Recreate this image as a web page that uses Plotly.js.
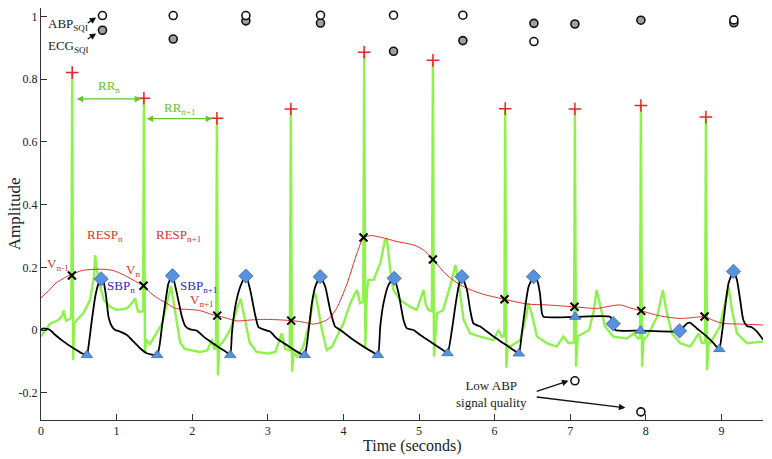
<!DOCTYPE html>
<html><head><meta charset="utf-8">
<script src="https://cdn.plot.ly/plotly-3.0.1.min.js"></script>
<style>body{margin:0;background:#fff}#c{width:772px;height:459px}</style>
</head><body><div id="c"></div>
<script>
// ECG (green) waveform
const ecgT=[0.00,0.06,0.12,0.23,0.28,0.30,0.33,0.38,0.40,0.413,0.425,0.44,0.475,0.56,0.65,0.70,0.717,0.735,0.76,0.83,0.915,1.0,1.136,1.20,1.246,1.27,1.29,1.35,1.361,1.375,1.39,1.44,1.5,1.6,1.68,1.72,1.78,1.84,1.9,2.0,2.1,2.2,2.26,2.29,2.315,2.327,2.34,2.36,2.4,2.5,2.58,2.64,2.7,2.76,2.85,3.0,3.1,3.186,3.23,3.29,3.305,3.32,3.34,3.385,3.47,3.56,3.60,3.627,3.67,3.716,3.78,3.85,3.914,4.0,4.09,4.18,4.22,4.262,4.275,4.29,4.31,4.33,4.40,4.487,4.55,4.575,4.62,4.66,4.75,4.88,4.97,5.06,5.09,5.126,5.17,5.184,5.198,5.237,5.32,5.435,5.48,5.52,5.59,5.677,5.81,5.985,6.05,6.097,6.128,6.14,6.155,6.175,6.206,6.34,6.405,6.449,6.49,6.56,6.69,6.82,6.91,6.98,7.05,7.062,7.077,7.10,7.14,7.25,7.31,7.35,7.40,7.46,7.57,7.75,7.84,7.90,7.923,7.935,7.95,7.97,8.015,8.15,8.226,8.27,8.345,8.455,8.587,8.70,8.74,8.783,8.795,8.81,8.83,8.85,8.98,9.07,9.094,9.14,9.205,9.337,9.55];
const ecgV=[-0.02,0.0,0.02,0.032,0.045,0.062,0.03,0.035,0.04,0.82,-0.096,0.02,0.032,0.053,0.096,0.17,0.239,0.2,0.16,0.096,0.074,0.064,0.069,0.085,0.101,0.07,0.058,0.06,0.739,-0.074,-0.03,-0.045,-0.02,0.02,0.10,0.14,0.05,-0.04,-0.06,-0.065,-0.07,-0.065,-0.03,-0.06,-0.06,0.675,-0.144,-0.05,-0.04,0.0,0.06,0.1,0.03,-0.04,-0.07,-0.075,-0.07,-0.01,-0.06,-0.065,0.705,-0.133,-0.07,-0.085,-0.053,0.032,0.106,0.117,0.064,0.0,-0.064,-0.053,-0.021,0.021,0.085,0.128,0.085,0.09,0.886,-0.053,0.12,0.16,0.16,0.213,0.287,0.292,0.19,0.128,0.096,0.074,0.064,0.128,0.08,0.064,0.06,0.86,-0.085,0.053,0.064,0.16,0.207,0.16,0.032,-0.011,-0.021,-0.032,0.0,-0.021,-0.02,0.706,-0.12,-0.05,-0.053,-0.032,0.032,0.085,0.053,-0.021,-0.042,-0.053,-0.021,-0.042,-0.04,0.705,-0.117,-0.02,-0.015,0.0,0.06,0.128,0.074,0.011,-0.021,-0.027,-0.011,-0.027,-0.025,0.716,-0.117,-0.03,-0.021,0.042,0.128,0.064,-0.011,-0.042,-0.053,-0.011,-0.042,-0.04,0.679,-0.128,-0.04,-0.042,0.011,0.106,0.138,0.064,-0.011,-0.042,-0.037];
// ABP (black) waveform
const abpT=[0,0.03,0.12,0.19,0.30,0.43,0.54,0.607,0.628,0.673,0.717,0.761,0.796,0.827,0.862,0.893,0.938,0.98,1.045,1.136,1.224,1.31,1.40,1.537,1.60,1.643,1.686,1.739,1.797,1.864,1.907,1.974,2.06,2.15,2.24,2.37,2.46,2.503,2.525,2.569,2.635,2.71,2.767,2.833,2.877,2.943,3.03,3.12,3.25,3.385,3.486,3.54,3.583,3.627,3.693,3.76,3.825,3.89,3.958,4.046,4.134,4.266,4.377,4.456,4.487,4.53,4.597,4.672,4.73,4.795,4.84,4.927,5.016,5.148,5.28,5.377,5.435,5.479,5.523,5.567,5.634,5.677,5.72,5.81,5.898,5.986,6.117,6.25,6.32,6.36,6.405,6.449,6.515,6.56,6.60,6.626,6.646,7.066,7.53,7.569,7.595,7.93,8.446,8.543,8.587,8.676,8.808,8.895,8.971,9.007,9.05,9.094,9.16,9.205,9.248,9.29,9.337,9.40,9.47,9.55];
const abpV=[0.0,0.005,0.0,-0.016,-0.037,-0.058,-0.074,-0.08,-0.053,0.032,0.106,0.149,0.163,0.154,0.106,0.042,0.011,0.0,-0.005,-0.016,-0.037,-0.058,-0.074,-0.08,0.011,0.085,0.149,0.173,0.117,0.042,0.013,0.002,-0.002,-0.021,-0.037,-0.058,-0.072,-0.08,-0.011,0.074,0.138,0.175,0.128,0.048,0.009,0.002,-0.005,-0.027,-0.048,-0.069,-0.08,0.0,0.085,0.138,0.17,0.138,0.064,0.011,0.0,-0.016,-0.032,-0.053,-0.069,-0.08,0.011,0.085,0.144,0.165,0.117,0.032,0.005,0.0,-0.016,-0.037,-0.058,-0.072,0.0,0.074,0.138,0.17,0.128,0.064,0.021,0.011,-0.005,-0.021,-0.042,-0.064,-0.074,-0.011,0.074,0.138,0.17,0.16,0.117,0.053,0.042,0.042,0.042,0.02,0.0,-0.002,-0.003,0.021,0.023,0.005,-0.021,-0.042,-0.061,-0.011,0.074,0.149,0.187,0.16,0.096,0.032,0.013,0.009,-0.005,-0.03];
// Respiration (red)
const respT=[0,0.1,0.2,0.3,0.409,0.55,0.78,0.95,1.1,1.25,1.356,1.45,1.58,1.665,1.775,1.93,2.1,2.28,2.331,2.45,2.59,2.77,2.94,3.1,3.31,3.45,3.6,3.7,3.78,3.83,3.91,4.05,4.18,4.266,4.355,4.49,4.71,4.93,5.06,5.184,5.28,5.37,5.545,5.81,6.131,6.43,6.69,7.057,7.35,7.5,7.66,7.8,7.939,8.19,8.455,8.72,8.777,8.9,9.03,9.25,9.55];
const respV=[0.103,0.125,0.15,0.165,0.178,0.19,0.194,0.19,0.175,0.155,0.141,0.118,0.096,0.085,0.069,0.066,0.062,0.048,0.046,0.038,0.029,0.032,0.034,0.033,0.030,0.026,0.019,0.024,0.032,0.042,0.069,0.149,0.245,0.293,0.301,0.296,0.282,0.271,0.255,0.225,0.198,0.175,0.144,0.117,0.098,0.083,0.080,0.074,0.069,0.075,0.080,0.07,0.061,0.045,0.037,0.042,0.043,0.03,0.021,0.019,0.016];
// R peaks (+)
const rT=[0.413,1.361,2.327,3.305,4.275,5.184,6.14,7.062,7.935,8.795];
const rV=[0.821,0.739,0.675,0.705,0.886,0.860,0.706,0.705,0.716,0.679];
// Respiration samples (x)
const vT=[0.409,1.356,2.331,3.31,4.266,5.184,6.131,7.057,7.939,8.777];
const vV=[0.174,0.141,0.046,0.030,0.295,0.225,0.098,0.074,0.061,0.043];
// SBP (diamonds)
const sbpT=[0.796,1.739,2.71,3.693,4.672,5.567,6.515,7.569,8.446,9.16];
const sbpV=[0.163,0.173,0.172,0.170,0.165,0.170,0.170,0.020,-0.003,0.187];
// Onsets (triangles)
const onT=[0.607,1.537,2.503,3.486,4.456,5.377,6.32,7.066,7.93,8.971];
const onV=[-0.08,-0.08,-0.08,-0.08,-0.08,-0.074,-0.075,0.042,-0.002,-0.061];
// SQI circles
const abpSqiT=[0.813,1.749,2.71,3.697,4.663,5.58,6.52,7.062,7.935,9.165];
const abpSqiV=[1.003,1.003,1.003,1.004,1.004,1.004,0.920,-0.162,-0.261,0.989];
const ecgSqiT=[0.813,1.749,2.71,3.697,4.663,5.58,6.52,7.062,7.935,9.165];
const ecgSqiV=[0.956,0.928,0.986,0.979,0.889,0.923,0.978,0.976,0.988,0.980];
// Axis ticks
const xTicks=[0,1,2,3,4,5,6,7,8,9];
const yTicks=[-0.2,0,0.2,0.4,0.6,0.8,1];
const yTickText=['-0.2','0','0.2','0.4','0.6','0.8','1'];

const F='"Liberation Serif", "Times New Roman", serif';
const traces=[
 {x:ecgT,y:ecgV,mode:'lines',line:{color:'#8ef24c',width:2.4},hoverinfo:'skip'},
 {x:respT,y:respV,mode:'lines',line:{color:'#e0302a',width:1,shape:'spline',smoothing:0.8}},
 {x:abpT,y:abpV,mode:'lines',line:{color:'#000',width:1.8,shape:'spline',smoothing:0.5}},
 {x:rT,y:rV,mode:'markers',marker:{symbol:'cross-thin',size:9,line:{color:'#e3242b',width:1.5}}},
 {x:vT,y:vV,mode:'markers',marker:{symbol:'x-thin',size:8,line:{color:'#000',width:2}}},
 {x:sbpT,y:sbpV,mode:'markers',marker:{symbol:'diamond',size:11,color:'#5891dc',line:{color:'#2b5fa8',width:0.7}}},
 {x:onT,y:onV,mode:'markers',marker:{symbol:'triangle-up',size:10,color:'#5891dc',line:{color:'#2b5fa8',width:0.7}}},
 {x:ecgSqiT,y:ecgSqiV,mode:'markers',marker:{symbol:'circle',size:8,color:'#a0a0a0',line:{color:'#111',width:1.6}}},
 {x:abpSqiT,y:abpSqiV,mode:'markers',marker:{symbol:'circle',size:8,color:'#fff',line:{color:'#111',width:1.6}}}
];
function txt(x,y,t,c,xa){return {x:x,y:y,text:t,showarrow:false,font:{family:F,size:13,color:c},xanchor:xa||'center',yanchor:'middle'};}
function arr(x,y,ax,ay,c,both){return {x:x,y:y,ax:ax,ay:ay,axref:'x',ayref:'y',text:'',showarrow:true,arrowhead:2,arrowsize:1,arrowwidth:1.3,arrowcolor:c,arrowside:both?'end+start':'end',standoff:0,startstandoff:0};}
const G='#63c62f', R='#d8322c', B='#2a2ac0', K='#222';
const ann=[
 txt(0.06,0.973,'ABP<sub>SQI</sub>',K,'left'),
 txt(0.06,0.903,'ECG<sub>SQI</sub>',K,'left'),
 arr(0.73,0.997,0.598,0.976,'#111'),
 arr(0.73,0.946,0.598,0.925,'#111'),
 txt(0.893,0.776,'RR<sub>n</sub>',G),
 arr(1.325,0.737,0.452,0.737,G,true),
 txt(1.84,0.707,'RR<sub>n+1</sub>',G),
 arr(2.265,0.674,1.378,0.674,G,true),
 txt(0.85,0.300,'RESP<sub>n</sub>',R),
 txt(1.82,0.300,'RESP<sub>n+1</sub>',R),
 txt(0.228,0.210,'V<sub>n-1</sub>',R),
 txt(1.22,0.190,'V<sub>n</sub>',R),
 txt(1.054,0.140,'SBP<sub>n</sub>',B),
 txt(2.086,0.140,'SBP<sub>n+1</sub>',B),
 txt(2.126,0.093,'V<sub>n+1</sub>',R),
 txt(5.955,-0.204,'Low ABP<br>signal quality',K),
 arr(6.977,-0.162,6.537,-0.197,'#111'),
 arr(7.73,-0.248,6.537,-0.213,'#111'),
 {xref:'paper',yref:'paper',x:0.515,y:-0.062,text:'Time (seconds)',showarrow:false,xanchor:'center',yanchor:'middle',font:{family:F,size:16,color:'#222'}},
 {xref:'paper',yref:'paper',x:-0.037,y:0.5,text:'Amplitude',textangle:-90,showarrow:false,xanchor:'center',yanchor:'middle',font:{family:F,size:17,color:'#222'}}
];
const ax={showline:true,linecolor:'#333',linewidth:1,ticks:'inside',ticklen:6,tickcolor:'#333',showgrid:false,zeroline:false,tickfont:{family:F,size:12,color:'#222'}};
const layout={width:772,height:459,margin:{l:41,r:9,t:8,b:39},showlegend:false,paper_bgcolor:'#fff',plot_bgcolor:'#fff',
 xaxis:Object.assign({},ax,{range:[0,9.55],tickvals:xTicks}),
 yaxis:Object.assign({},ax,{range:[-0.287,1.027],tickvals:yTicks,ticktext:yTickText}),
 annotations:ann};
Plotly.newPlot('c',traces,layout,{displayModeBar:false,staticPlot:true});
</script></body></html>
